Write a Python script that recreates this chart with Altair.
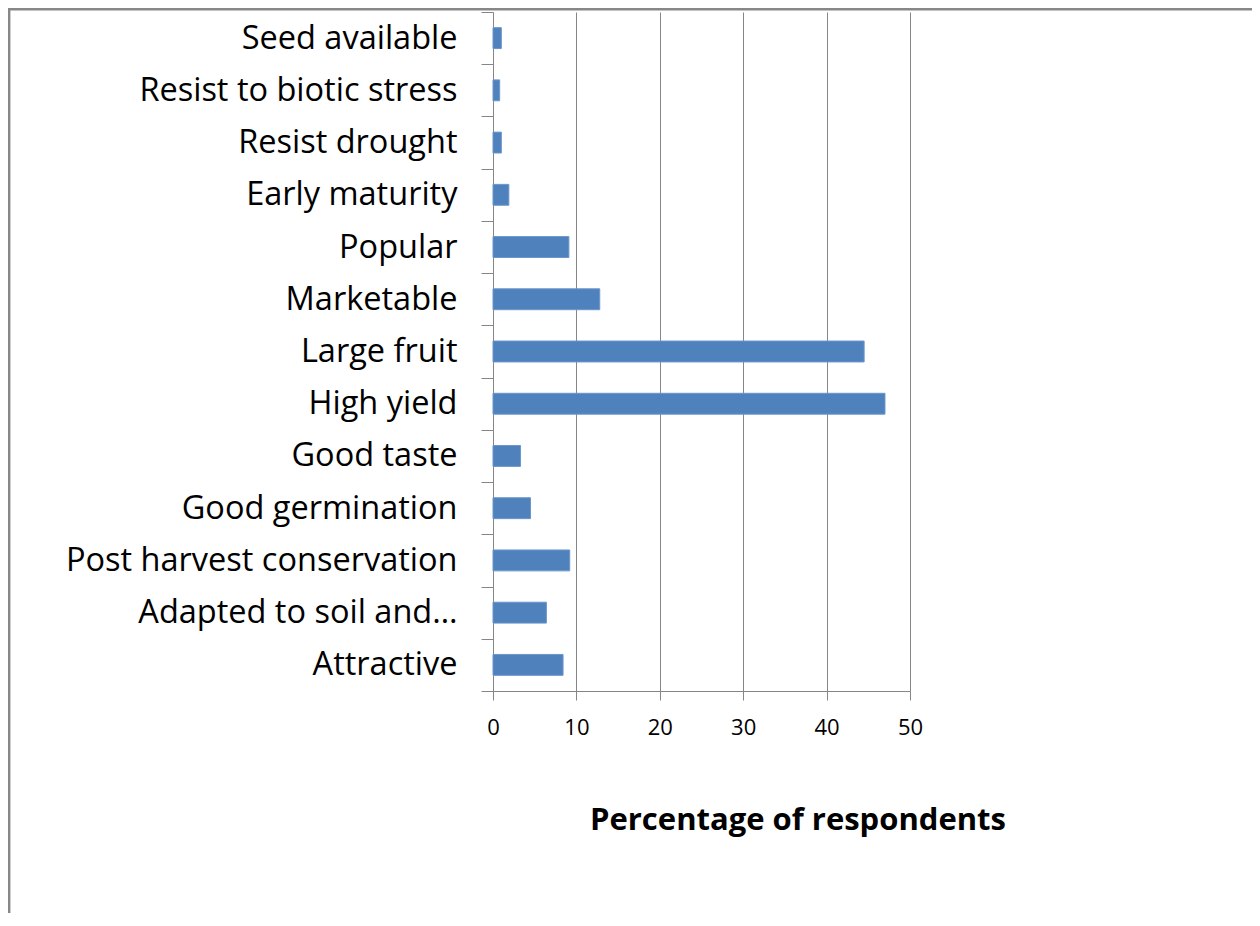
import altair as alt
import pandas as pd

categories = [
    "Seed available",
    "Resist to biotic stress",
    "Resist drought",
    "Early maturity",
    "Popular",
    "Marketable",
    "Large fruit",
    "High yield",
    "Good taste",
    "Good germination",
    "Post harvest conservation",
    "Adapted to soil and…",
    "Attractive",
]
percentages = [1.0, 0.8, 1.0, 1.9, 9.1, 12.8, 44.5, 47.0, 3.3, 4.5, 9.2, 6.4, 8.4]
x_ticks = [0, 10, 20, 30, 40, 50]

df = pd.DataFrame({"trait": categories, "pct": percentages})

W, H = 417, 679
PAD = {"left": 485, "top": 4, "right": 342, "bottom": 222}
GRAY = "#868686"
FONT = "Open Sans"

bars = alt.Chart(df).mark_bar(
    height={"band": 0.4}, color="#4F81BD", stroke="#6B96CC", strokeWidth=1
).encode(
    x=alt.X(
        "pct:Q",
        scale=alt.Scale(domain=[0, 50], nice=False, zero=True),
        axis=alt.Axis(
            values=x_ticks,
            grid=True,
            gridColor=GRAY,
            gridWidth=1,
            domainColor=GRAY,
            tickColor=GRAY,
            tickSize=9,
            labelFont=FONT,
            labelFontSize=22,
            labelColor="black",
            labelPadding=17,
            labelFlush=False,
            labelOverlap=False,
            title="Percentage of respondents",
            titleFont=FONT,
            titleFontSize=31,
            titleFontWeight="bold",
            titleColor="black",
            titleAlign="center",
            titleBaseline="alphabetic",
            titleX=304.5,
            titleY=138,
        ),
    ),
    y=alt.Y(
        "trait:N",
        sort=categories,
        scale=alt.Scale(paddingInner=0, paddingOuter=0),
        axis=alt.Axis(
            title=None,
            grid=False,
            domainColor=GRAY,
            tickColor=GRAY,
            tickSize=12,
            tickBand="extent",
            labelFont=FONT,
            labelFontSize=32.5,
            labelColor="black",
            labelPadding=24,
            labelLimit=0,
        ),
    ),
)

one = alt.Data(values=[{"k": 1}])
border_top = alt.Chart(one).mark_rule(color="#878787", strokeWidth=2.4, clip=False).encode(
    x=alt.value(-485), x2=alt.value(W + PAD["right"]), y=alt.value(-2.8)
)
border_left = alt.Chart(one).mark_rule(color="#878787", strokeWidth=2.4, clip=False).encode(
    x=alt.value(-483.8), y=alt.value(-4), y2=alt.value(H + PAD["bottom"])
)

chart = (
    alt.layer(bars, border_top, border_left)
    .properties(
        width=W,
        height=H,
        padding=PAD,
        autosize=alt.AutoSizeParams(type="none"),
        background="white",
    )
    .configure_view(strokeWidth=0)
)

chart.save("out.html", embed_options={"renderer": "svg", "actions": False})
